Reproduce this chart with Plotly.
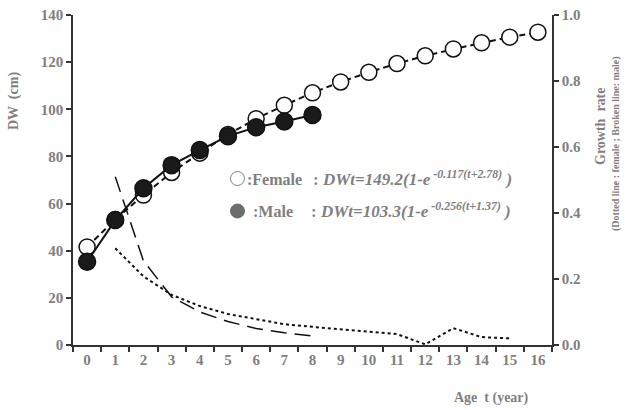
import plotly.graph_objects as go

ages = [str(i) for i in range(17)]
female_dw = [41.6, 53.2, 63.6, 73.2, 81.4, 89.3, 96.0, 101.7, 107.0, 111.6, 115.7, 119.4, 122.7, 125.6, 128.2, 130.6, 132.7]
male_ages = [str(i) for i in range(9)]
male_dw = [35.3, 53.0, 66.5, 76.3, 82.7, 88.6, 92.4, 94.8, 97.6]

female_rate_ages = [str(i) for i in range(1, 16)]
female_rate = [0.293, 0.208, 0.152, 0.118, 0.094, 0.078, 0.063, 0.055, 0.048, 0.041, 0.033, 0.002, 0.051, 0.024, 0.020]
male_rate_ages = [str(i) for i in range(1, 9)]
male_rate = [0.51, 0.255, 0.146, 0.100, 0.071, 0.050, 0.037, 0.027]

gray = "#7f7f7f"
serif = "Liberation Serif"

fig = go.Figure()

fig.add_trace(go.Scatter(
    x=female_rate_ages, y=female_rate, yaxis="y2", mode="lines",
    line=dict(color="#111111", width=2, dash="dot"), showlegend=False))
fig.add_trace(go.Scatter(
    x=male_rate_ages, y=male_rate, yaxis="y2", mode="lines",
    line=dict(color="#111111", width=1.5, dash="16px,8px"), showlegend=False))

fig.add_trace(go.Scatter(
    x=ages, y=female_dw, mode="lines+markers",
    line=dict(color="#111111", width=2, dash="6px,4px"),
    marker=dict(symbol="circle", size=16, color="white", line=dict(color="#111111", width=1.5)),
    showlegend=False))
fig.add_trace(go.Scatter(
    x=male_ages, y=male_dw, mode="lines+markers",
    line=dict(color="#111111", width=2),
    marker=dict(symbol="circle", size=17, color="#1a1a1a", line=dict(color="#111111", width=1.5)),
    showlegend=False))

tickfont = dict(family=serif, size=15, color=gray, weight="bold")

fig.update_layout(
    width=625, height=410,
    margin=dict(l=73, r=73, t=15, b=65, autoexpand=False),
    paper_bgcolor="white", plot_bgcolor="white",
    xaxis=dict(
        type="category", categoryorder="array", categoryarray=ages,
        range=[-0.5, 16.5], tickson="boundaries", ticks="outside", ticklen=5,
        tickcolor="#333333", tickwidth=1.5,
        showline=True, linecolor="#333333", linewidth=1.5, showgrid=False,
        tickfont=tickfont, zeroline=False),
    yaxis=dict(
        range=[0, 140], dtick=20, ticks="outside", ticklen=5, tickcolor="#333333", tickwidth=1.5,
        showline=True, linecolor="#333333", linewidth=1.5, showgrid=False, zeroline=False,
        tickfont=tickfont),
    yaxis2=dict(
        range=[0, 1], dtick=0.2, tickformat=".1f", overlaying="y", side="right",
        ticks="outside", ticklen=5, tickcolor="#333333", tickwidth=1.5,
        showline=True, linecolor="#333333", linewidth=1.5, showgrid=False, zeroline=False,
        tickfont=tickfont),
)

def ann(text, x, y, size, xanchor="center", angle=0):
    fig.add_annotation(text=text, x=x, y=y, xref="paper", yref="paper",
                       xanchor=xanchor, yanchor="middle", showarrow=False, textangle=angle,
                       font=dict(family=serif, size=size, color=gray, weight="bold"))

def px(xp):
    return (xp - 73) / 479

def py(yp):
    return (345 - yp) / 330

ann("DW  (cm)", px(14), py(101), 14, angle=-90)
ann("Growth  rate", px(601), py(126), 14, angle=-90)
ann("(Dotted line : female ; Broken line: male)", px(616), py(144), 10, angle=-90)
ann("Age  t (year)", px(491), py(398), 14)

# legend-like circle symbols
r = 7
fig.add_shape(type="circle", xref="paper", yref="paper",
              x0=px(237.5 - r), x1=px(237.5 + r), y0=py(178.5 + r), y1=py(178.5 - r),
              line=dict(color=gray, width=1), fillcolor="white")
fig.add_shape(type="circle", xref="paper", yref="paper",
              x0=px(237.5 - r), x1=px(237.5 + r), y0=py(211 + r), y1=py(211 - r),
              line=dict(color="#6d6d6d", width=1), fillcolor="#6d6d6d")

ann(":Female", px(245), py(179), 16, xanchor="left")
ann(": <i>DWt=149.2(1-e</i><sup><i> -0.117(t+2.78)</i></sup><i> )</i>", px(311), py(178), 17, xanchor="left")
ann(":Male", px(251), py(211), 16, xanchor="left")
ann(": <i>DWt=103.3(1-e</i><sup><i> -0.256(t+1.37)</i></sup><i> )</i>", px(309), py(210), 17, xanchor="left")

fig.write_html("out.html", config={"displayModeBar": False},
               post_script="document.body.style.margin='0';")
